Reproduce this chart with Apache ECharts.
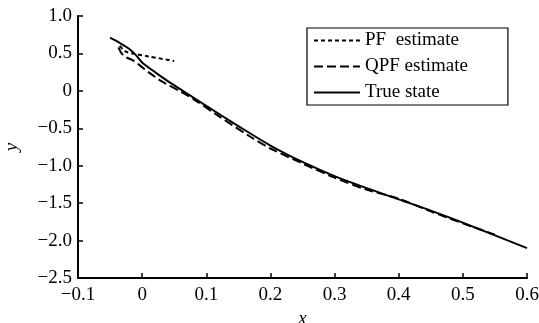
<!DOCTYPE html>
<html>
<head>
<meta charset="utf-8">
<script src="https://cdn.jsdelivr.net/npm/echarts@6/dist/echarts.min.js"></script>
<style>
html,body{margin:0;padding:0;background:#fff;}
#main{width:539px;height:323px;}
</style>
</head>
<body>
<div id="main"></div>
<script>
// data
var seriesNames = ['PF  estimate', 'QPF estimate', 'True state'];
var pfEstimate = [[-0.035,0.60],[-0.027,0.53],[-0.015,0.50],[0.01,0.46],[0.05,0.40]];
var qpfEstimate = [[-0.037,0.58],[-0.032,0.50],[-0.025,0.45],[-0.015,0.41],[-0.005,0.35],[0.01,0.25],
    [0.03,0.13],[0.06,-0.01],[0.08,-0.11],[0.12,-0.34],[0.17,-0.62],[0.2,-0.77],[0.25,-0.97],
    [0.3,-1.16],[0.35,-1.32],[0.4,-1.44],[0.45,-1.61],[0.5,-1.77],[0.55,-1.92]];
var trueState = [[-0.05,0.71],[-0.035,0.64],[-0.02,0.56],[-0.01,0.48],[0,0.38],[0.02,0.25],
    [0.04,0.13],[0.06,0.02],[0.08,-0.09],[0.1,-0.2],[0.15,-0.47],[0.2,-0.73],[0.25,-0.95],
    [0.3,-1.14],[0.35,-1.3],[0.4,-1.45],[0.45,-1.6],[0.5,-1.76],[0.55,-1.93],[0.6,-2.1]];

function fmt(v, d){
    if (Math.abs(v) < 1e-9) return '0';
    return v.toFixed(d).replace('-', '\u2212');
}

var font = "'Liberation Serif', 'Times New Roman', serif";
var chart = echarts.init(document.getElementById('main'));
chart.setOption({
    animation: false,
    backgroundColor: '#fff',
    grid: {left: 78, right: 12, top: 16, bottom: 45, outerBoundsMode: 'none', containLabel: false},
    legend: {
        show: true,
        orient: 'vertical',
        left: 307, top: 28,
        padding: [3, 40, 3, 6],
        borderColor: '#000', borderWidth: 1.2,
        itemWidth: 46, itemHeight: 14, itemGap: 7,
        itemStyle: {opacity: 0},
        lineStyle: {opacity: 1},
        textStyle: {fontFamily: font, fontSize: 19, color: '#000'},
        data: seriesNames
    },
    xAxis: {
        type: 'value', min: -0.1, max: 0.6, interval: 0.1,
        name: 'x', nameLocation: 'middle', nameGap: 23,
        nameTextStyle: {fontFamily: font, fontSize: 19, fontStyle: 'italic', color: '#000'},
        axisLine: {onZero: false, lineStyle: {color: '#000', width: 2}},
        axisTick: {inside: true, length: 5, lineStyle: {color: '#000', width: 1.5}},
        axisLabel: {fontFamily: font, fontSize: 19, color: '#000', margin: 8,
            formatter: function(v){ return fmt(v, 1); }},
        splitLine: {show: false}
    },
    yAxis: {
        type: 'value', min: -2.5, max: 1.0, interval: 0.5,
        name: 'y', nameLocation: 'middle', nameGap: 57, nameRotate: 90,
        nameTextStyle: {fontFamily: font, fontSize: 19, fontStyle: 'italic', color: '#000'},
        axisLine: {onZero: false, lineStyle: {color: '#000', width: 2}},
        axisTick: {inside: true, length: 5, lineStyle: {color: '#000', width: 1.5}},
        axisLabel: {fontFamily: font, fontSize: 19, color: '#000', margin: 6,
            formatter: function(v){ return fmt(v, 1); }},
        splitLine: {show: false}
    },
    series: [
        {
            name: seriesNames[0], type: 'line', data: pfEstimate, symbol: 'none', smooth: 0.3,
            lineStyle: {color: '#000', width: 2, type: [4, 3]}, itemStyle: {color: '#000'}
        },
        {
            name: seriesNames[1], type: 'line', data: qpfEstimate, symbol: 'none', smooth: 0.3,
            lineStyle: {color: '#000', width: 2, type: [9, 4]}, itemStyle: {color: '#000'}
        },
        {
            name: seriesNames[2], type: 'line', data: trueState, symbol: 'none', smooth: 0.3,
            lineStyle: {color: '#000', width: 2}, itemStyle: {color: '#000'}
        }
    ]
});
</script>
</body>
</html>
